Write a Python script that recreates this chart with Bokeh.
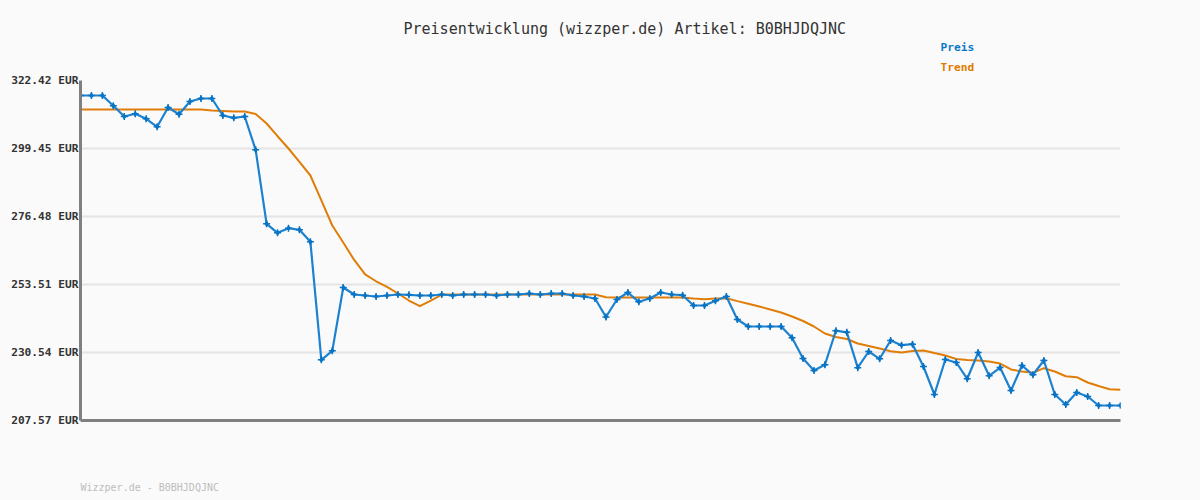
from bokeh.plotting import figure
from bokeh.models import Range1d, FixedTicker, Title
from bokeh.embed import file_html
from bokeh.resources import INLINE

# ---- data ----
preis = [317.35, 317.35, 317.35, 313.87, 310.26, 311.17, 309.48, 306.78, 313.30, 311.00,
         315.33, 316.34, 316.34, 310.60, 309.82, 310.26, 299.01, 274.01, 270.97, 272.53,
         271.99, 267.93, 228.07, 231.11, 252.50, 250.13, 249.79, 249.46, 249.79, 250.13,
         250.03, 249.79, 249.79, 250.13, 249.79, 250.13, 250.13, 250.13, 249.79, 250.13,
         250.13, 250.47, 250.13, 250.47, 250.47, 249.79, 249.46, 248.78, 242.53, 248.45,
         250.81, 247.66, 248.78, 250.81, 250.13, 249.89, 246.42, 246.42, 248.00, 249.46,
         241.69, 239.32, 239.32, 239.32, 239.32, 235.51, 228.51, 224.46, 226.39, 237.90,
         237.36, 225.41, 230.88, 228.41, 234.59, 233.00, 233.34, 225.81, 216.35, 228.17,
         227.16, 221.66, 230.54, 222.67, 225.47, 217.70, 226.15, 223.01, 227.84, 216.35,
         212.98, 217.03, 215.68, 212.64, 212.64, 212.64]
trend = [312.62, 312.62, 312.62, 312.62, 312.62, 312.62, 312.62, 312.62, 312.62, 312.62,
         312.62, 312.62, 312.29, 312.12, 311.95, 311.95, 311.10, 307.89, 303.60, 299.45,
         294.90, 290.33, 281.90, 273.44, 267.70, 261.80, 256.90, 254.60, 252.70, 250.47,
         248.10, 246.18, 248.10, 250.13, 250.13, 250.13, 250.13, 250.13, 250.13, 250.13,
         250.13, 250.13, 250.13, 250.13, 250.13, 250.13, 250.13, 250.13, 249.22, 249.12,
         249.12, 249.12, 249.12, 249.12, 249.12, 249.12, 248.80, 248.50, 248.78, 248.88,
         247.90, 246.99, 246.08, 245.06, 244.05, 242.70, 241.18, 239.32, 236.96, 235.78,
         235.10, 233.58, 232.74, 231.89, 230.98, 230.54, 231.05, 231.22, 230.37, 229.53,
         228.35, 228.01, 227.84, 227.50, 226.82, 224.80, 224.12, 223.68, 225.24, 224.12,
         222.53, 222.20, 220.40, 219.22, 218.15, 217.94]
y_ticks = [207.57, 230.54, 253.51, 276.48, 299.45, 322.42]
y_tick_labels = ["207.57 EUR", "230.54 EUR", "253.51 EUR", "276.48 EUR", "299.45 EUR", "322.42 EUR"]
title_text = "Preisentwicklung (wizzper.de) Artikel: B0BHJDQJNC"
footer_text = "Wizzper.de - B0BHJDQJNC"
series_names = ["Preis", "Trend"]

idx = list(range(len(preis)))
BG = "#fafafa"
BLUE_LINE = "#1c82d0"
BLUE_PT = "#0a74c4"
ORANGE = "#e07d08"
FONT = "DejaVu Sans Mono"

n = len(preis) - 1
ymin, ymax = y_ticks[0], y_ticks[-1]

p = figure(width=1200, height=500, output_backend="svg", toolbar_location=None,
           x_range=Range1d(0, n), y_range=Range1d(ymin, ymax),
           min_border_left=80, min_border_right=80, min_border_top=80, min_border_bottom=80,
           background_fill_color=BG, border_fill_color=BG)
p.outline_line_color = None

# bottom axis: only its line is visible; the hidden tick extent spaces the footer
p.xaxis.ticker = FixedTicker(ticks=[0])
p.xaxis.major_tick_line_color = None
p.xaxis.minor_tick_line_color = None
p.xaxis.major_tick_out = 60
p.xaxis.minor_tick_out = 0
p.xaxis.major_label_standoff = 0
p.xaxis.major_label_text_font_size = "10px"
p.xaxis.major_label_text_color = None
p.xaxis.axis_line_color = "#808080"
p.xaxis.axis_line_width = 3
p.xgrid.grid_line_color = None

p.yaxis.ticker = FixedTicker(ticks=y_ticks)
p.yaxis.major_label_overrides = {t: l for t, l in zip(y_ticks, y_tick_labels)}
p.yaxis.major_tick_line_color = None
p.yaxis.minor_tick_line_color = None
p.yaxis.major_tick_out = 0
p.yaxis.axis_line_color = "#808080"
p.yaxis.axis_line_width = 3
p.yaxis.major_label_standoff = 2
p.yaxis.major_label_text_font = FONT
p.yaxis.major_label_text_font_style = "bold"
p.yaxis.major_label_text_font_size = "11.2px"
p.yaxis.major_label_text_color = "#333333"
p.ygrid.grid_line_color = "#e4e4e4"
p.ygrid.grid_line_width = 2

p.line(idx, trend, line_color=ORANGE, line_width=2)
p.line(idx, preis, line_color=BLUE_LINE, line_width=2.2)
p.scatter(idx, preis, marker="diamond", size=5, fill_color=BLUE_PT, line_color=BLUE_PT)
p.scatter(idx, preis, marker="cross", size=7, line_color=BLUE_PT, line_width=1.5)

# texts above the frame, stacked from the frame outwards
p.add_layout(Title(text=series_names[1], align="left", offset=860, vertical_align="middle",
                   standoff=11, text_font=FONT, text_font_size="11.2px",
                   text_font_style="bold", text_color="#e07a00"), "above")
p.add_layout(Title(text=series_names[0], align="left", offset=860, vertical_align="middle",
                   standoff=0, text_font=FONT, text_font_size="11.2px",
                   text_font_style="bold", text_color="#0a78c8"), "above")
p.add_layout(Title(text=title_text, align="left", offset=323, vertical_align="middle",
                   standoff=1, text_font=FONT, text_font_size="15px",
                   text_font_style="normal", text_color="#333333"), "above")
p.add_layout(Title(text=footer_text, align="left", offset=0, vertical_align="middle",
                   standoff=0, text_font=FONT, text_font_size="10px",
                   text_font_style="normal", text_color="#bdbdbd"), "below")

html = file_html(p, INLINE)
html = html.replace("<head>", "<head><style>body{background:%s;}</style>" % BG, 1)
open("out.html", "w").write(html)
